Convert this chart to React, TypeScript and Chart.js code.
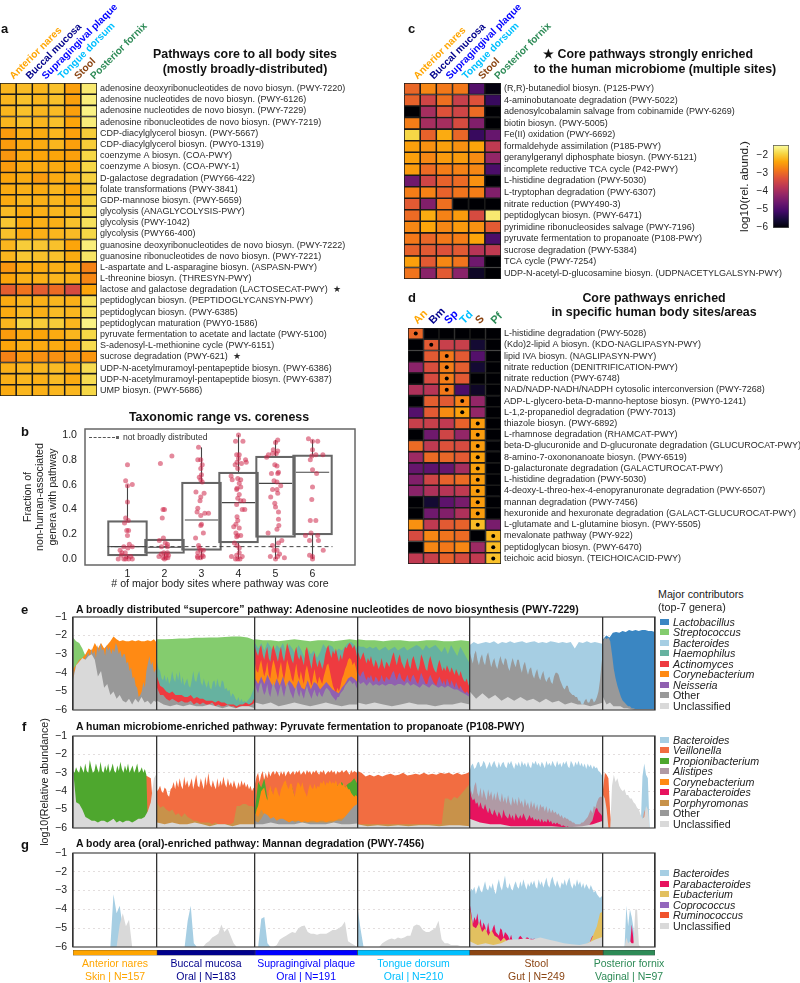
import React, { useEffect, useRef } from 'react';
import { Chart, registerables } from 'chart.js';
Chart.register(...registerables);
const FF = '"Liberation Sans", Arial, sans-serif';
Chart.defaults.font.family = FF;

// ---------- heatmap labels & values
const siteNames = ['Anterior nares', 'Buccal mucosa', 'Supragingival plaque', 'Tongue dorsum', 'Stool', 'Posterior fornix'];
const siteAbbrev = ['An', 'Bm', 'Sp', 'Td', 'S', 'Pf'];
const siteColors = ['#FFA500', '#00008B', '#0000FF', '#00BFFF', '#8B4513', '#2E8B57'];
const siteN = [157, 183, 191, 210, 249, 97];
const siteArea = ['Skin', 'Oral', 'Oral', 'Oral', 'Gut', 'Vaginal'];

const rowsA = ['adenosine deoxyribonucleotides de novo biosyn. (PWY-7220)', 'adenosine nucleotides de novo biosyn. (PWY-6126)', 'adenosine nucleotides de novo biosyn. (PWY-7229)', 'adenosine ribonucleotides de novo biosyn. (PWY-7219)', 'CDP-diacylglycerol biosyn. (PWY-5667)', 'CDP-diacylglycerol biosyn. (PWY0-1319)', 'coenzyme A biosyn. (COA-PWY)', 'coenzyme A biosyn. (COA-PWY-1)', 'D-galactose degradation (PWY66-422)', 'folate transformations (PWY-3841)', 'GDP-mannose biosyn. (PWY-5659)', 'glycolysis (ANAGLYCOLYSIS-PWY)', 'glycolysis (PWY-1042)', 'glycolysis (PWY66-400)', 'guanosine deoxyribonucleotides de novo biosyn. (PWY-7222)', 'guanosine ribonucleotides de novo biosyn. (PWY-7221)', 'L-aspartate and L-asparagine biosyn. (ASPASN-PWY)', 'L-threonine biosyn. (THRESYN-PWY)', 'lactose and galactose degradation (LACTOSECAT-PWY)  ★', 'peptidoglycan biosyn. (PEPTIDOGLYCANSYN-PWY)', 'peptidoglycan biosyn. (PWY-6385)', 'peptidoglycan maturation (PWY0-1586)', 'pyruvate fermentation to acetate and lactate (PWY-5100)', 'S-adenosyl-L-methionine cycle (PWY-6151)', 'sucrose degradation (PWY-621)  ★', 'UDP-N-acetylmuramoyl-pentapeptide biosyn. (PWY-6386)', 'UDP-N-acetylmuramoyl-pentapeptide biosyn. (PWY-6387)', 'UMP biosyn. (PWY-5686)'];
const valuesA = [
  [-2.25, -2.2, -2.25, -2.15, -2.45, -1.75], [-2.25, -2.15, -2.25, -2.15, -2.45, -1.7], [-2.25, -2.15, -2.25, -2.2, -2.45, -1.65], [-2.25, -2.15, -2.25, -2.15, -2.4, -1.7],
  [-2.5, -2.3, -2.35, -2.25, -2.45, -2.05], [-2.5, -2.35, -2.35, -2.25, -2.45, -2.05], [-2.55, -2.35, -2.4, -2.4, -2.45, -1.95], [-2.5, -2.35, -2.35, -2.35, -2.4, -1.95],
  [-2.4, -2.35, -2.5, -2.35, -2.3, -2.0], [-2.35, -2.3, -2.35, -2.25, -2.4, -2.05], [-2.35, -2.25, -2.3, -2.25, -2.35, -2.0], [-2.2, -2.35, -2.3, -2.25, -2.25, -1.9],
  [-2.1, -2.35, -2.3, -2.3, -2.15, -1.85], [-2.15, -2.35, -2.3, -2.25, -2.2, -1.95], [-2.25, -2.05, -2.1, -2.15, -2.4, -1.7], [-2.25, -2.1, -2.15, -2.15, -2.35, -1.8],
  [-2.55, -2.35, -2.35, -2.3, -2.35, -2.75], [-2.4, -2.3, -2.3, -2.25, -2.3, -2.7], [-3.15, -2.9, -3.15, -3.0, -3.4, -2.4], [-2.35, -2.25, -2.3, -2.25, -2.3, -1.85],
  [-2.35, -2.2, -2.3, -2.2, -2.25, -1.85], [-2.25, -1.95, -2.05, -2.05, -2.25, -1.65], [-2.5, -2.35, -2.4, -2.35, -2.25, -1.95], [-2.4, -2.3, -2.35, -2.35, -2.45, -1.9],
  [-2.75, -2.5, -2.6, -2.6, -2.55, -2.55], [-2.3, -2.25, -2.25, -2.2, -2.35, -1.9], [-2.3, -2.25, -2.3, -2.2, -2.35, -1.9], [-2.35, -2.25, -2.3, -2.25, -2.25, -1.95],
];
const rowsC = ['(R,R)-butanediol biosyn. (P125-PWY)', '4-aminobutanoate degradation (PWY-5022)', 'adenosylcobalamin salvage from cobinamide (PWY-6269)', 'biotin biosyn. (PWY-5005)', 'Fe(II) oxidation (PWY-6692)', 'formaldehyde assimilation (P185-PWY)', 'geranylgeranyl diphosphate biosyn. (PWY-5121)', 'incomplete reductive TCA cycle (P42-PWY)', 'L-histidine degradation (PWY-5030)', 'L-tryptophan degradation (PWY-6307)', 'nitrate reduction (PWY490-3)', 'peptidoglycan biosyn. (PWY-6471)', 'pyrimidine ribonucleosides salvage (PWY-7196)', 'pyruvate fermentation to propanoate (P108-PWY)', 'sucrose degradation (PWY-5384)', 'TCA cycle (PWY-7254)', 'UDP-N-acetyl-D-glucosamine biosyn. (UDPNACETYLGALSYN-PWY)'];
const valuesC = [
  [-3.05, -2.7, -2.85, -2.85, -4.9, -5.9], [-3.1, -3.5, -2.95, -3.6, -3.3, -5.2], [-6, -4.0, -3.3, -3.5, -3.0, -6], [-2.8, -4.0, -4.0, -3.4, -4.4, -6],
  [-1.95, -3.1, -2.35, -3.05, -5.2, -4.7], [-2.45, -2.6, -2.45, -2.6, -2.4, -3.7], [-2.45, -2.7, -2.5, -2.5, -2.65, -4.2], [-2.5, -3.0, -2.8, -2.75, -2.7, -5.0],
  [-4.6, -3.5, -3.1, -3.0, -2.6, -6], [-2.8, -2.75, -3.1, -2.9, -2.8, -4.4], [-3.2, -4.4, -2.95, -6, -6, -6], [-3.0, -2.35, -2.75, -2.5, -3.4, -1.75],
  [-2.7, -2.4, -2.7, -2.5, -2.6, -3.2], [-2.85, -3.05, -2.85, -2.8, -2.4, -5.0], [-3.1, -3.2, -3.3, -3.2, -3.8, -3.7], [-2.45, -3.2, -2.7, -2.9, -4.6, -6], [-2.9, -4.3, -3.2, -4.3, -5.7, -6],
];
const rowsD = ['L-histidine degradation (PWY-5028)', '(Kdo)2-lipid A biosyn. (KDO-NAGLIPASYN-PWY)', 'lipid IVA biosyn. (NAGLIPASYN-PWY)', 'nitrate reduction (DENITRIFICATION-PWY)', 'nitrate reduction (PWY-6748)', 'NAD/NADP-NADH/NADPH cytosolic interconversion (PWY-7268)', 'ADP-L-glycero-beta-D-manno-heptose biosyn. (PWY0-1241)', 'L-1,2-propanediol degradation (PWY-7013)', 'thiazole biosyn. (PWY-6892)', 'L-rhamnose degradation (RHAMCAT-PWY)', 'beta-D-glucuronide and D-glucuronate degradation (GLUCUROCAT-PWY)', '8-amino-7-oxononanoate biosyn. (PWY-6519)', 'D-galacturonate degradation (GALACTUROCAT-PWY)', 'L-histidine degradation (PWY-5030) ', '4-deoxy-L-threo-hex-4-enopyranuronate degradation (PWY-6507)', 'mannan degradation (PWY-7456)', 'hexuronide and hexuronate degradation (GALACT-GLUCUROCAT-PWY)', 'L-glutamate and L-glutamine biosyn. (PWY-5505)', 'mevalonate pathway (PWY-922)', 'peptidoglycan biosyn. (PWY-6470)', 'teichoic acid biosyn. (TEICHOICACID-PWY)'];
const valuesD = [
  [-3.05, -6, -6, -6, -6, -6], [-6, -3.2, -3.6, -3.6, -5.6, -6], [-6, -3.2, -2.85, -3.2, -4.9, -6], [-4.3, -3.35, -2.8, -3.15, -5.6, -6], [-6, -3.4, -2.8, -3.2, -6, -6],
  [-3.9, -3.8, -2.85, -5.0, -5.7, -6], [-6, -3.15, -3.2, -2.75, -4.2, -6], [-4.9, -3.2, -2.65, -2.45, -4.2, -6], [-3.6, -3.6, -3.7, -3.1, -2.5, -6], [-6, -4.6, -3.5, -4.2, -2.5, -6],
  [-3.0, -3.7, -3.3, -3.4, -2.5, -6], [-4.1, -3.0, -3.05, -3.2, -2.45, -6], [-4.7, -4.8, -4.7, -4.0, -2.45, -6], [-4.4, -3.5, -3.1, -3.0, -2.5, -6], [-4.3, -3.9, -3.8, -3.7, -2.5, -6],
  [-6, -5.6, -4.8, -4.5, -2.5, -6], [-6, -4.6, -4.4, -3.9, -2.5, -6], [-2.6, -3.7, -3.2, -3.1, -2.2, -4.5], [-3.4, -2.7, -2.9, -3.0, -6, -2.25], [-6, -2.7, -2.85, -2.7, -4.1, -2.2], [-3.7, -3.6, -3.1, -3.4, -3.7, -2.15],
];
const dotColumnD = [0, 1, 2, 2, 2, 2, 3, 3, 4, 4, 4, 4, 4, 4, 4, 4, 4, 4, 5, 5, 5];

// ---------- panel b
const boxCounts = [1, 2, 3, 4, 5, 6];
const boxQ1 = [0.025, 0.045, 0.07, 0.13, 0.175, 0.195];
const boxMedian = [0.10, 0.095, 0.315, 0.455, 0.61, 0.70];
const boxQ3 = [0.31, 0.16, 0.62, 0.70, 0.83, 0.84];
const whiskLow = [0, 0, 0, 0, 0, 0];
const whiskHigh = [0.6, 0.16, 0.9, 1.0, 0.96, 0.96];
const jitter1 = [[0, .76], [-.05, .63], [0, .59], [.13, .6], [0, .46], [-.05, .33], [-.08, .29], [.02, .31], [-.02, .23], [.03, .23], [0, .19], [.05, .12], [-.1, .1], [.01, .09], [-.2, .07], [-.15, .05], [-.06, .05], [.13, .1], [-.25, 0], [-.1, 0], [-.02, .02], [.03, 0], [.09, .02], [.13, 0], [-.17, .03], [-.05, 0]];
const jitter2 = [[-.11, .77], [.2, .83], [-.04, .4], [0, .4], [-.06, .33], [-.03, .17], [-.14, .15], [.08, .12], [.02, .13], [-.08, .1], [.08, .1], [-.02, .05], [.04, .03], [.08, .05], [.11, .03], [-.04, .01], [.04, .01], [0, 0], [-.15, .02], [.09, .01], [-.09, .04]];
const jitter3 = [[-.08, .9], [-.1, .8], [-.02, .8], [.02, .76], [-.02, .73], [0, .68], [-.06, .66], [-.02, .64], [.02, .62], [-.15, .54], [.07, .53], [-.02, .5], [-.04, .47], [-.1, .41], [-.12, .38], [.09, .37], [.19, .37], [-.02, .35], [0, .28], [-.02, .27], [.05, .21], [-.16, .17], [-.08, .11], [-.06, .09], [-.02, .07], [.05, .07], [-.1, .05], [-.11, .02], [.02, .03], [-.02, .01], [-.1, .01], [.05, .02]];
const jitter4 = [[0, 1], [-.08, .95], [.12, .95], [-.05, .84], [.02, .84], [0, .81], [.19, .8], [.21, .78], [-.04, .78], [.08, .77], [-.09, .76], [-.02, .73], [-.2, .67], [-.17, .64], [-.02, .65], [.06, .64], [.02, .61], [-.04, .57], [.06, .58], [-.05, .56], [.02, .52], [-.02, .49], [.06, .47], [.14, .47], [-.05, .44], [.1, .4], [.17, .4], [-.04, .34], [-.02, .31], [-.07, .28], [-.13, .26], [.02, .25], [-.07, .21], [-.02, .19], [.06, .19], [-.05, .18], [-.11, .13], [-.04, .11], [.02, .09], [-.19, .02], [-.05, .03], [.02, .05], [.1, .02], [-.02, 0], [.04, 0], [-.08, 0]];
const jitter5 = [[.06, .96], [0, .94], [-.06, .88], [.06, .87], [.02, .85], [-.08, .85], [-.19, .84], [-.24, .82], [-.02, .76], [.04, .75], [.08, .7], [-.11, .69], [.06, .69], [-.04, .63], [.04, .62], [.14, .59], [-.08, .56], [.04, .56], [.06, .53], [-.13, .5], [-.02, .45], [0, .42], [.08, .38], [.08, .32], [.09, .27], [.04, .24], [-.2, .21], [.17, .15], [.08, .13], [-.08, .11], [-.04, .07], [.04, .07], [.11, .04], [-.14, .02], [0, 0], [.24, .01], [.06, .02]];
const jitter6 = [[-.11, .97], [0, .95], [.14, .95], [0, .88], [.09, .84], [.28, .84], [-.02, .83], [-.06, .8], [0, .72], [.11, .69], [0, .58], [-.02, .48], [-.06, .31], [.09, .31], [-.04, .21], [-.19, .19], [.14, .19], [-.08, .15], [.16, .15], [-.08, .03], [0, .02], [.29, .07], [0, 0]];
const jitterGroups = [jitter1, jitter2, jitter3, jitter4, jitter5, jitter6];
const notBroadlyDistributed = 0.1;

// ---------- contributor legends
const legendE = ['Lactobacillus', 'Streptococcus', 'Bacteroides', 'Haemophilus', 'Actinomyces', 'Corynebacterium', 'Neisseria', 'Other', 'Unclassified'];
const legendF = ['Bacteroides', 'Veillonella', 'Propionibacterium', 'Alistipes', 'Corynebacterium', 'Parabacteroides', 'Porphyromonas', 'Other', 'Unclassified'];
const legendG = ['Bacteroides', 'Parabacteroides', 'Eubacterium', 'Coprococcus', 'Ruminococcus', 'Unclassified'];
const genusColors: Record<string, string> = { Lactobacillus: '#3a86c2', Streptococcus: '#84cc6e', Bacteroides: '#a6cee3', Haemophilus: '#66b2a0', Actinomyces: '#ee3b40', Corynebacterium: '#ff8a14', Neisseria: '#9060b0', Other: '#999999', Unclassified: '#d9d9d9', Veillonella: '#f26d41', Propionibacterium: '#4ea72e', Alistipes: '#b09aa5', Parabacteroides: '#e7135f', Porphyromonas: '#c8924a', Eubacterium: '#e2c060', Coprococcus: '#9467bd', Ruminococcus: '#f0532d' };

// ---------- panel e boundaries (top of each stacked layer, log10)
const eAnStrep = [-2.1, -2.3, -2.4, -2.7, -3.1, -3.4, -6, -6, -6, -6, -6, -6, -6, -6, -6, -6, -6, -6, -6, -6, -6, -6, -6, -6, -6, -6, -6, -6];
const eAnCoryne = [-3.8, -3.6, -3.3, -3.2, -3.0, -2.7, -2.8, -2.4, -2.7, -2.4, -2.7, -2.5, -2.3, -2.05, -2.2, -2.3, -2.25, -2.3, -2.3, -2.25, -2.3, -2.25, -2.3, -2.3, -2.25, -2.3, -2.2, -2.4];
const eAnOther = [-4.3, -3.9, -3.6, -3.8, -3.3, -3.6, -3.3, -3.4, -3.2, -3.1, -2.9, -3.2, -2.7, -3.0, -2.8, -3.2, -2.5, -2.9, -2.4, -2.8, -2.7, -3.1, -2.5, -2.8, -2.6, -3.0, -2.7, -2.9, -2.4, -2.6, -3.0, -2.8, -3.2, -3.0, -3.0, -3.5, -3.4, -3.9, -3.7, -4.3, -4.2, -4.7, -4.8, -5.3, -5.2, -5.0, -4.5, -4.8, -3.9, -3.5, -3.1, -3.6, -3.4, -4.0, -3.8, -4.3];
const eAnUncl = [-4.4, -3.6, -3.4, -3.2, -3.3, -3.1, -3.0, -3.3, -4.2, -3.9, -4.8, -4.6, -5.2, -5.0, -5.4, -5.2, -5.5, -5.6, -5.4, -5.7, -5.4, -5.6, -5.3, -5.6, -5.5, -5.7, -5.5, -5.6];
const eBmStrep = [-2.2, -2.2, -2.18, -2.15, -2.15, -2.12, -2.12, -2.1, -2.1, -2.08, -2.05, -2.05, -2.1, -2.25];
const eBmHaem = [-3.4, -3.8, -3.9, -4.3, -4.4, -4.1, -4.5, -4.2, -4.6, -4.4, -3.9, -4.3, -4.5, -4.0, -4.4, -3.9, -4.6, -4.2, -4.7, -4.5, -4.3, -4.7, -4.8, -4.4, -3.9, -4.4, -4.5, -4.1, -3.9, -4.5, -4.7, -4.3, -4.6, -4.8, -4.4, -4.8, -4.9, -4.5, -4.4, -4.8, -4.3, -4.7, -4.8, -4.4, -4.5, -4.9, -4.8, -5.0, -4.9, -5.3, -5.1, -5.2, -5.4, -5.5, -5.3, -5.6, -5.4, -5.6, -5.5, -5.6, -5.5, -5.4, -5.3, -5.1, -4.9, -4.6];
const eBmActino = [-4.2, -4.7, -4.8, -5.0, -5.1, -5.0, -5.2, -5.2, -5.2, -5.3, -5.3, -5.2, -5.4, -5.3, -5.4, -5.4, -5.5, -5.5, -5.5, -5.6, -5.5, -5.6, -5.6, -5.7, -5.7, -5.7, -5.8, -5.7, -5.7, -5.6, -5.7, -5.6, -5.3];
const eBmOther = [-4.8, -5.2, -5.2, -5.4, -5.5, -5.4, -5.5, -5.6, -5.5, -5.6, -5.6, -5.5, -5.7, -5.6, -5.7, -5.6, -5.7, -5.7, -5.6, -5.8, -5.7, -5.8, -5.8, -5.7, -5.8, -5.8, -5.9, -5.8, -5.8, -5.8, -5.8, -5.7, -5.6];
const eBmUncl = [-5.5, -5.7, -5.8, -5.7, -5.8, -5.7, -5.8, -5.8, -5.7, -5.8, -5.9, -5.8, -5.9, -5.8, -5.8, -5.9];
const eSpStrep = [-2.2, -2.25, -2.25, -2.3, -2.25, -2.2, -2.25, -2.3, -2.25, -2.25, -2.3, -2.25, -2.2, -2.25];
const eSpHaem = [-2.4, -2.7, -2.4, -2.8, -2.35, -2.6, -2.9, -2.5, -2.7, -2.4, -2.9, -2.45, -2.7, -3.0, -2.5, -2.8, -3.2, -2.7, -3.0, -2.8, -3.2, -2.9, -2.45, -2.7, -2.5, -2.6, -2.9, -2.7, -2.8, -2.6, -2.4, -2.35, -2.5, -2.7];
const eSpActino = [-2.6, -2.9, -3.1, -2.7, -2.5, -3.0, -3.3, -2.9, -2.6, -3.2, -3.4, -2.8, -2.5, -2.8, -3.1, -3.4, -2.9, -2.6, -3.1, -3.4, -2.9, -2.4, -2.7, -3.0, -3.3, -3.5, -2.9, -2.6, -3.1, -3.3, -3.0, -3.3, -3.6, -2.8, -2.6, -3.0, -3.4, -3.8, -3.2, -2.9, -3.4, -3.7, -3.3, -3.5, -3.8, -3.5, -3.0, -2.7, -2.5, -2.9, -3.2, -2.8, -3.0, -2.7, -3.1, -3.4, -3.0, -3.3, -2.9, -2.6, -2.7, -2.5, -2.4, -2.5, -2.7, -2.5, -2.8, -3.2];
const eSpCoryne = [-3.5, -3.9, -4.0, -3.6, -3.3, -3.8, -4.2, -3.9, -3.4, -4.1, -4.3, -3.7, -3.3, -3.6, -4.0, -4.4, -3.8, -3.4, -4.0, -4.4, -3.9, -3.3, -3.6, -3.9, -4.3, -4.5, -4.0, -3.5, -4.1, -4.4, -3.9, -4.3, -4.6, -3.9, -3.6, -4.0, -4.4, -4.7, -4.2, -3.8, -4.3, -4.6, -4.2, -4.4, -4.6, -4.2, -3.9, -3.6, -3.5, -3.9, -4.3, -4.7, -4.9, -5.1, -4.8, -5.0, -4.7, -4.3, -4.1, -3.8, -3.6, -3.3, -3.2, -3.3, -3.6, -3.4, -3.7, -4.1];
const eSpNeiss = [-4.3, -4.6, -4.2, -4.6, -4.1, -4.5, -4.8, -4.3, -4.7, -4.2, -4.8, -4.4, -4.6, -4.9, -4.4, -4.8, -4.9, -4.4, -4.9, -4.5, -4.6, -4.9, -4.7, -4.5, -4.7, -4.9, -5.0, -5.1, -4.8, -4.6, -4.3, -4.2, -4.3, -4.5];
const eSpOther = [-4.6, -4.9, -5.1, -4.7, -4.5, -4.9, -5.2, -5.0, -4.6, -5.1, -5.3, -4.8, -4.5, -4.8, -5.0, -5.3, -4.9, -4.6, -5.0, -5.3, -4.9, -4.5, -4.7, -5.0, -5.2, -5.4, -5.0, -4.7, -5.1, -5.3, -4.9, -5.2, -5.4, -5.0, -4.7, -5.0, -5.2, -5.4, -5.1, -4.9, -5.2, -5.3, -5.0, -5.2, -5.3, -5.1, -4.9, -4.8, -4.9, -5.0, -5.2, -5.3, -5.4, -5.5, -5.3, -5.3, -5.1, -5.0, -4.9, -4.7, -4.6, -4.5, -4.4, -4.5, -4.6, -4.5, -4.7, -4.9];
const eSpUncl = [-5.6, -5.7, -5.6, -5.8, -5.7, -5.6, -5.7, -5.8, -5.7, -5.6, -5.7, -5.8, -5.7, -5.7];
const eTdStrep = [-2.2, -2.25, -2.25, -2.3, -2.25, -2.25, -2.3, -2.3, -2.25, -2.25, -2.3, -2.3, -2.25, -2.3];
const eTdHaem = [-2.5, -2.6, -2.6, -2.7, -2.6, -2.7, -2.6, -2.8, -2.7, -2.6, -2.8, -2.7, -2.6, -2.8, -2.7, -2.6, -2.8, -2.7, -2.6, -2.5, -2.6, -2.8, -2.5, -2.7, -2.6, -2.5, -2.7, -2.9, -2.6, -3.0, -2.5, -2.8, -3.1, -2.6, -2.9, -3.2, -3.5];
const eTdActino = [-2.8, -3.0, -3.3, -3.1, -2.9, -3.2, -3.5, -3.2, -3.4, -3.1, -3.5, -3.7, -3.3, -3.5, -3.8, -3.6, -3.2, -3.6, -3.8, -3.4, -3.5, -3.7, -3.4, -3.1, -2.9, -3.3, -3.6, -3.2, -3.0, -3.4, -3.6, -3.8, -3.5, -3.2, -3.6, -3.8, -3.3, -3.1, -3.4, -3.7, -3.9, -3.6, -3.0, -3.2, -3.5, -3.8, -3.9, -3.4, -3.1, -3.4, -3.7, -3.9, -4.0, -3.6, -3.3, -3.6, -3.9, -3.7, -3.9, -3.6, -3.8, -4.0, -3.7, -3.9, -4.1, -3.8, -4.0, -4.2, -3.9, -4.2, -4.4, -4.5, -4.3, -4.6, -4.8];
const eTdNeiss = [-3.9, -4.1, -4.2, -4.0, -3.9, -4.2, -4.4, -4.2, -4.3, -4.1, -4.4, -4.5, -4.2, -4.3, -4.5, -4.4, -4.1, -4.4, -4.5, -4.2, -4.3, -4.4, -4.2, -4.0, -3.9, -4.2, -4.4, -4.1, -4.0, -4.3, -4.4, -4.5, -4.3, -4.1, -4.4, -4.5, -4.2, -4.1, -4.3, -4.5, -4.6, -4.3, -4.0, -4.2, -4.4, -4.6, -4.6, -4.3, -4.1, -4.3, -4.5, -4.6, -4.7, -4.4, -4.2, -4.4, -4.6, -4.4, -4.7, -4.3, -4.5, -4.7, -4.4, -4.6, -4.8, -4.5, -4.7, -4.9, -4.7, -4.9, -5.0, -5.1, -5.0, -5.1, -5.2];
const eTdOther = [-4.4, -4.6, -4.5, -4.7, -4.5, -4.7, -4.6, -4.7, -4.6, -4.7, -4.6, -4.6, -4.7, -4.6, -4.6, -4.7, -4.5, -4.7, -4.6, -4.7, -4.8, -4.6, -4.7, -4.8, -4.6, -4.7, -4.8, -4.7, -4.8, -4.7, -4.8, -4.9, -4.9, -5.0, -5.1, -5.2, -5.3];
const eTdUncl = [-5.6, -5.7, -5.6, -5.7, -5.8, -5.7, -5.6, -5.7, -5.7, -5.8, -5.7, -5.7, -5.6, -5.7];
const eStBact = [-2.5, -2.35, -2.45, -2.4, -2.35, -2.4, -2.3, -2.45, -2.35, -2.4, -2.3, -2.4, -2.35, -2.3, -2.4, -2.35, -2.3, -2.4, -2.35, -2.4, -2.3, -2.35, -2.4, -2.35, -2.4, -2.35, -2.7, -2.35, -2.4, -2.3, -2.4, -2.35, -2.4, -2.45];
const eStOther = [-2.9, -3.2, -3.5, -3.0, -2.8, -3.3, -3.6, -3.2, -3.0, -3.4, -3.6, -3.1, -2.9, -3.3, -3.7, -3.4, -3.2, -3.6, -3.8, -3.4, -3.1, -3.4, -3.6, -3.2, -3.3, -3.7, -3.9, -3.5, -3.2, -3.5, -3.7, -3.3, -3.3, -3.7, -4.0, -3.6, -3.4, -3.8, -4.1, -3.8, -3.7, -4.1, -4.3, -4.0, -3.8, -4.2, -4.4, -4.1, -3.9, -4.3, -4.5, -4.3, -4.2, -4.5, -4.6, -4.2, -4.0, -4.0, -4.1, -4.4, -4.6, -4.8, -4.9, -4.7, -4.7, -5.0, -5.1, -5.2, -5.2, -5.3, -5.3, -5.5, -5.5, -5.7, -5.7, -5.5, -5.4, -5.6, -5.6, -5.4, -5.4, -5.6, -5.5, -5.3, -5.0, -4.4, -3.5, -2.8];
const eStUncl = [-5.0, -5.4, -5.1, -5.4, -5.2, -5.5, -5.3, -5.5, -5.3, -5.5, -5.4, -5.6, -5.4, -5.6, -5.5, -5.7, -5.6, -5.7, -5.7, -5.8, -5.7, -5.6];
const ePfLacto = [-2.2, -2.0, -2.1, -1.85, -1.8, -1.85, -1.75, -1.8, -1.7, -1.75, -1.7, -1.75, -1.7, -1.7, -1.75, -1.75, -1.8];
const ePfOther = [-2.3, -2.1, -2.2, -2.1, -2.3, -3.0, -3.8, -4.3, -4.7, -5.0, -5.3, -5.5, -5.6, -5.7, -5.8, -5.8, -5.9, -5.9, -5.95, -5.95, -5.95, -5.95, -5.95, -5.95, -5.95, -5.95, -5.95, -5.95, -5.95, -5.95];
const ePfUncl = [-5.3, -5.7, -5.6, -5.8, -5.8, -5.8, -5.9, -5.9, -5.95, -6, -6, -6, -6, -6, -6, -6];

// ---------- panel f boundaries
const fAnProp = [-2.9, -3.0, -2.7, -2.9, -3.0, -2.6, -2.8, -3.0, -2.5, -2.9, -3.0, -2.3, -2.7, -3.0, -2.9, -2.5, -2.8, -3.0, -2.4, -2.9, -3.0, -2.6, -2.9, -2.5, -3.0, -2.8, -2.5, -2.9, -3.0, -2.6, -2.9, -2.4, -2.8, -3.0, -2.6, -2.9, -2.5, -3.0, -2.8, -2.6, -3.0, -2.8, -2.5, -3.0, -2.9, -2.7, -3.0, -2.8, -3.1, -6, -6, -6, -6, -6, -6, -6];
const fAnVeill = [-3.8, -3.6, -3.7, -3.8, -4, -4, -4, -4, -4, -4, -4, -4, -4, -4, -4, -4, -4, -4, -4, -4, -4, -4, -3.4, -3.1, -3.2, -3.3, -5.4, -6];
const fAnUncl = [-2.8, -4.6, -4.7, -5.0, -5.4, -5.5, -5.6, -5.6, -5.7, -5.6, -5.6, -5.7, -5.6, -5.5, -5.7, -5.6, -5.7, -5.6, -5.6, -5.7, -5.6, -5.5, -5.5, -5.4, -5.1, -4.6, -3.3, -3.0];
const fBmVeill = [-4.0, -3.9, -3.7, -4.0, -4.1, -3.8, -3.9, -4.2, -4.3, -3.9, -3.8, -3.5, -3.9, -3.4, -3.8, -3.3, -3.7, -3.9, -3.2, -3.7, -3.4, -3.8, -3.6, -3.3, -3.9, -3.5, -3.1, -3.7, -3.8, -3.3, -3.6, -3.9, -3.2, -3.7, -3.0, -3.6, -3.8, -3.4, -3.7, -3.9, -3.3, -3.8, -3.4, -3.7, -3.2, -3.6, -3.8, -3.3, -3.7, -3.5, -3.8, -3.4, -3.7, -3.9, -3.5, -3.8, -3.4, -3.7, -3.5, -3.8, -3.6, -3.9, -3.7, -4.0, -3.8, -4.0];
const fBmPorphy = [-4.6, -4.9, -4.8, -5.0, -5.1, -5.0, -5.3, -5.2, -5.4, -5.2, -5.4, -5.5, -5.6, -5.6, -5.7, -5.7, -5.7, -5.7, -5.8, -5.7, -5.8, -5.8, -5.8, -5.8, -5.8, -5.7, -4.8, -4.8, -4.7, -4.7, -4.8, -4.8, -4.9];
const fBmUncl = [-5.7, -5.8, -5.7, -5.8, -5.8, -5.7, -5.8, -5.9, -5.8, -5.8, -5.9, -5.8, -5.8, -5.8];
const fSpVeill = [-3.6, -3.2, -3.0, -3.5, -3.1, -2.9, -3.4, -3.0, -3.3, -2.9, -3.2, -3.0, -2.9, -3.1, -2.9, -3.0, -3.2, -2.9, -3.1, -2.9, -3.2, -3.0, -2.9, -3.1, -3.0, -2.9, -3.1, -2.9, -3.0, -2.85, -3.1, -3.0, -2.9, -3.1, -2.85, -3.0, -2.9, -3.1, -2.9, -3.0, -2.85, -3.0, -3.1, -2.9, -3.0, -2.85, -3.1, -3.0, -2.9, -3.0, -2.85, -3.0, -2.9, -3.1, -2.9, -3.0, -2.95, -2.85, -3.0, -2.9, -2.85, -3.0, -3.1, -2.85, -3.0, -2.9, -2.95, -3.0];
const fSpProp = [-5.0, -3.5, -3.8, -3.3, -4.4, -3.8, -4.4, -4.2, -4.5, -3.9, -3.6, -4.3, -3.8, -4.5, -3.7, -3.9, -4.2, -4.5, -3.8, -4.2, -4.2, -4.2, -3.9, -4.0, -3.8, -3.7, -3.6, -3.7, -3.5, -3.8, -3.6, -3.5, -3.3, -3.6];
const fSpCoryne = [-5.4, -5.0, -4.8, -4.4, -4.0, -3.9, -3.8, -4.2, -4.5, -4.0, -3.7, -4.0, -4.2, -3.8, -3.8, -4.1, -4.3, -3.9, -3.7, -3.5, -3.4, -3.7, -3.9, -3.6, -3.6, -4.0, -4.3, -3.8, -3.5, -3.6, -3.8, -3.5, -3.9, -4.1, -4.3, -3.9, -3.6, -3.8, -3.9, -3.6, -3.9, -3.7, -3.8, -3.5, -3.6, -3.4, -3.7, -3.5, -3.6, -3.4, -3.6, -3.5, -3.6, -3.4, -3.7, -3.6, -3.5, -3.7, -3.6, -3.8, -3.7, -3.9, -3.9, -4.1, -4.2, -4.3, -4.2, -4.3];
const fSpPorphy = [-5.2, -5.4, -5.0, -5.3, -5.5, -5.6, -5.5, -5.6, -5.6, -5.5, -5.6, -5.7, -5.6, -5.6, -5.6, -5.7, -5.6, -5.7, -5.6, -5.6, -5.7, -5.6, -5.6, -5.7, -5.6, -5.6, -5.6, -5.5, -5.5, -5.4, -5.3, -5.0, -5.0, -4.9];
const fSpOther = [-5.6, -5.7, -5.5, -5.2, -5.3, -5.5, -5.4, -5.6, -5.5, -5.5, -5.6, -5.7, -5.6, -5.7, -5.6, -5.7, -5.7, -5.7, -5.7, -5.7, -5.7, -5.7, -5.7, -5.7, -5.7, -5.7, -5.6, -5.6, -5.6, -5.4, -5.2, -5.0, -4.8, -4.7];
const fSpUncl = [-5.8, -5.8, -5.7, -5.8, -5.8, -5.8, -5.7, -5.8, -5.8, -5.8, -5.7, -5.8, -5.8, -5.75];
const fTdVeill = [-2.9, -3.0, -3.2, -3.1, -3.2, -3.1, -3.2, -3.1, -3.05, -3.15, -3.1, -3.0, -3.15, -3.1, -3.05, -3.1, -3.0, -3.1, -3.05, -3.1, -3.0, -3.05, -3.0, -3.1, -3.0, -3.1, -3.05, -2.95];
const fTdPorphy = [-5.8, -5.8, -5.8, -5.8, -5.8, -5.8, -5.8, -5.8, -5.8, -5.8, -5.8, -5.8, -5.8, -5.8, -5.8, -5.8, -5.8, -5.8, -5.8, -5.8, -5.8, -5.8, -5.8, -5.8, -5.8, -5.8, -5.8, -5.8, -4.4, -4.4, -4.5, -4.3, -4.4, -4.2, -4.0, -3.8, -3.6];
const fTdUncl = [-5.8, -5.9, -5.85, -5.9, -5.85, -5.9, -5.85, -5.85, -5.9, -5.85, -5.85, -5.9];
const fStBact = [-2.9, -2.6, -2.5, -2.8, -2.7, -2.45, -2.4, -2.7, -2.6, -2.35, -2.5, -2.8, -2.6, -2.4, -2.7, -2.5, -2.35, -2.6, -2.75, -2.4, -2.7, -2.5, -2.4, -2.65, -2.75, -2.4, -2.55, -2.35, -2.6, -2.8, -2.45, -2.65, -2.4, -2.7, -2.35, -2.6, -2.45, -2.7, -2.4, -2.65, -2.75, -2.4, -2.55, -2.35, -2.6, -2.45, -2.7, -2.4, -2.55, -2.75, -2.35, -2.6, -2.45, -2.65, -2.35, -2.55, -2.7, -2.35, -2.6, -2.45, -2.7, -2.4, -2.55, -2.35, -2.65, -2.75, -2.35, -2.5, -2.7, -2.4, -2.6, -2.35, -2.65, -2.45, -2.7, -2.5, -2.8, -2.5, -2.7, -2.55, -2.8, -2.6, -2.75, -2.7, -2.9, -2.95, -3.1, -3.2];
const fStAlist = [-3.6, -4.0, -4.2, -3.7, -3.5, -4.1, -4.3, -3.8, -4.4, -3.9, -4.2, -4.5, -3.9, -4.3, -4.0, -4.5, -4.1, -4.5, -4.0, -4.4, -4.6, -4.1, -4.6, -4.3, -4.7, -4.2, -4.6, -4.8, -4.3, -4.7, -4.4, -4.8, -4.3, -4.7, -4.5, -4.9, -4.4, -4.8, -4.6, -5.0, -4.5, -4.9, -4.6, -5.0, -4.7, -5.1, -4.7, -4.9, -4.8, -5.1, -4.8, -5.2, -4.9, -5.2, -5.0, -5.2, -5.1, -5.3, -5.2, -5.4, -5.3, -5.5, -5.4, -5.5, -5.5, -5.6, -5.6, -5.7, -5.7, -5.8, -5.8, -5.8, -5.8, -5.7, -5.7, -5.6, -5.5, -5.4, -5.2, -5.0, -5.2, -4.8, -4.9, -4.6, -4.4, -4.3, -4.3, -4.4];
const fStParab = [-3.9, -4.3, -4.5, -4.4, -4.7, -4.6, -4.9, -4.6, -4.9, -5.0, -4.7, -5.0, -5.2, -4.9, -5.2, -5.3, -5.0, -5.2, -5.4, -5.1, -5.3, -5.5, -5.0, -5.3, -5.4, -5.5, -5.2, -5.5, -5.3, -5.6, -5.2, -5.4, -5.5, -5.3, -5.5, -5.2, -5.4, -5.6, -5.5, -5.3, -5.5, -5.4, -5.6, -5.5, -5.6, -5.5, -5.7, -5.5, -5.7, -5.6, -5.7, -5.5, -5.7, -5.6, -5.8, -5.7, -5.8, -5.7, -5.8, -5.8, -5.9, -5.85, -5.9, -5.95, -5.9, -6, -6, -6, -6, -6, -6, -6, -6, -6, -6, -5.95, -5.9, -5.95, -5.85, -5.7, -5.6, -5.3, -5.0, -4.9, -5.1, -5.2, -5.3, -5.5];
const fStUncl = [-5.5, -5.7, -5.8, -5.8, -5.9, -5.9, -5.9, -5.9, -5.9, -5.95, -5.95, -5.9, -5.8, -5.6];
const fPfBact = [-6, -6, -6, -6, -6, -6, -6, -6, -6, -6, -6, -6, -6, -6, -6, -6, -6, -6, -6, -6, -6, -6, -3.2, -2.5, -3.1, -3.3, -6, -6, -6, -6];
const fPfVeill = [-3.9, -3.0, -3.1, -3.3, -5.2, -6, -6, -6, -6, -6, -6, -6, -6, -6, -6, -6, -6, -6, -6, -6, -6, -6, -6, -5.0, -6, -6, -6, -6, -6, -6];
const fPfUncl = [-4.2, -4.4, -5.0, -6, -6, -3.7, -3.1, -3.5, -3.3, -3.7, -3.9, -4.0, -3.9, -4.2, -4.2, -4.4, -4.4, -4.6, -4.7, -4.9, -5.0, -5.3, -5.5, -5.4, -4.8, -5.0, -6, -6, -6, -6];

// ---------- panel g boundaries
const gAnBact = [-6, -6, -6, -6, -6, -6, -6, -6, -6, -6, -6, -6, -6, -3.2, -4.2, -3.8, -5.0, -6, -6, -6, -6, -6, -6, -6, -6, -6, -6, -6];
const gAnUncl = [-6, -6, -6, -6, -6, -6, -6, -6, -6, -6, -6, -6, -6, -6, -6, -4.8, -4.2, -4.9, -4.55, -6, -6, -6, -6, -6, -6, -6, -6, -6];
const gBmBact = [-6, -6, -6, -6, -6, -6, -6, -6, -6, -6, -4.6, -3.8, -5.8, -6, -6, -6, -6, -6, -6, -6, -6, -6, -6, -6, -6, -6, -6, -6, -6, -6, -6, -6, -6];
const gBmUncl = [-6, -6, -6, -6, -6, -6, -6, -6, -6, -6, -6, -6, -6, -6, -6, -6, -5.8, -5.7, -5.5, -5.4, -5.3, -4.8, -5.2, -5.0, -5.4, -5.8, -6, -6, -6, -6, -6, -6, -6];
const gSpBact = [-6, -6, -4.5, -4.4, -5.8, -6, -6, -6, -6, -6, -6, -6, -6, -6, -6, -6, -6, -6, -6, -6, -6, -6, -6, -6, -6, -6, -6, -6, -6, -6, -6, -6, -6, -6];
const gSpUncl = [-6, -6, -6, -6, -6, -6, -6, -5.9, -5.6, -5.5, -5.4, -5.3, -5.2, -5.25, -5.0, -4.9, -4.85, -5.2, -5.3, -5.3, -5.35, -5.3, -5.3, -5.3, -5.2, -5.1, -5.1, -5.0, -4.9, -4.65, -5.7, -5.8, -5.9, -6];
const gTdBact = [-3.8, -5.0, -6, -6, -6, -6, -6, -6, -6, -6, -6, -6, -6, -6, -6, -6, -6, -6, -6, -6, -6, -6, -6, -6, -6, -6, -6, -6, -6, -6, -6, -6, -6, -6, -6, -6, -6];
const gTdUncl = [-6, -6, -6, -6, -6, -6, -6, -6, -5.8, -5.7, -5.6, -5.55, -5.6, -5.5, -5.55, -5.5, -5.4, -5.4, -4.9, -4.8, -4.85, -5.1, -5.2, -5.2, -5.1, -5.0, -4.6, -5.6, -5.8, -5.8, -5.9, -5.9, -5.9, -5.95, -5.95, -5.95, -6];
const gStBact = [-3.1, -2.9, -3.0, -2.8, -3.2, -2.9, -2.7, -3.0, -3.1, -2.8, -2.5, -2.9, -3.0, -2.7, -2.9, -2.6, -3.0, -3.2, -2.7, -2.4, -2.8, -3.0, -2.6, -2.2, -2.8, -2.9, -2.6, -2.9, -3.0, -2.7, -2.5, -2.8, -2.9, -2.5, -2.8, -2.4, -2.7, -2.95, -2.6, -2.8, -2.5, -2.7, -2.45, -2.8, -2.9, -2.4, -2.7, -2.5, -2.85, -2.6, -2.3, -2.7, -2.85, -2.45, -2.25, -2.6, -2.8, -2.45, -2.7, -2.9, -2.55, -2.7, -2.4, -2.75, -2.5, -2.3, -2.7, -2.9, -2.6, -2.8, -2.4, -2.7, -2.5, -2.85, -2.6, -2.9, -2.65, -2.8, -2.95, -2.7, -2.9, -3.1, -3.0, -3.2, -3.3, -3.4, -3.3, -3.4];
const gStEub = [-3.9, -4.9, -5.0, -4.7, -5.2, -5.0, -5.4, -5.1, -5.4, -5.5, -5.7, -5.5, -5.7, -5.7, -5.8, -5.8, -5.9, -5.9, -5.9, -5.9, -5.9, -5.9, -5.9, -5.9, -5.9, -5.95, -5.95, -5.95, -5.95, -5.95, -5.95, -5.9, -5.9, -5.95, -5.95, -5.95, -5.9, -5.9, -5.8, -5.7, -5.3, -4.9, -4.2, -4.1];
const gStParab = [-3.7, -4.2, -4.8, -4.4, -4.6, -4.2, -4.9, -4.5, -5.0, -4.7, -4.9, -5.2, -4.7, -5.2, -5.4, -5.0, -4.8, -5.2, -5.3, -5.4, -5.0, -5.1, -5.5, -5.2, -5.3, -5.4, -5.6, -5.35, -5.7, -5.8, -5.9, -5.9, -5.5, -5.4, -5.5, -5.6, -5.6, -5.5, -5.5, -5.6, -5.55, -5.6, -5.55, -5.6, -5.7, -5.6, -5.75, -5.65, -5.7, -5.8, -5.8, -5.9, -5.85, -5.9, -5.9, -5.95, -5.8, -5.9, -5.95, -5.9, -5.85, -5.95, -5.9, -6, -6, -6, -6, -6, -6, -6, -6, -6, -6, -6, -6, -6, -6, -5.95, -5.9, -5.6, -5.4, -5.5, -5.2, -5.3, -5.0, -4.7, -4.9, -5.6];
const gStUncl = [-5.7, -5.9, -5.8, -5.9, -5.8, -5.6, -5.6, -5.55, -5.6, -5.5, -5.6, -5.7, -5.8, -5.85, -5.9, -5.8, -5.6, -5.45];
const gPfBact = [-6, -6, -6, -6, -6, -6, -6, -6, -6, -6, -6, -6, -6, -3.8, -4.9, -4.0, -4.4, -5.0, -6, -6, -6, -6, -6, -6, -6, -6, -6, -6, -6, -6];
const gPfParab = [-6, -6, -6, -6, -6, -6, -6, -6, -6, -6, -6, -6, -6, -6, -6, -6, -4.8, -5.6, -6, -6, -6, -6, -6, -6, -6, -6, -6, -6, -6, -6];
const gPfUncl = [-6, -6, -6, -6, -6, -6, -6, -6, -6, -6, -6, -6, -6, -5.5, -5.8, -5.7, -5.8, -5.8, -4.0, -4.0, -5.9, -6, -6, -6, -6, -6, -6, -6, -6, -6];

type L = [string, number, number[]];
const layersE: L[] = [
  ['Streptococcus', 0, eAnStrep], ['Corynebacterium', 0, eAnCoryne], ['Other', 0, eAnOther], ['Unclassified', 0, eAnUncl],
  ['Streptococcus', 1, eBmStrep], ['Haemophilus', 1, eBmHaem], ['Actinomyces', 1, eBmActino], ['Other', 1, eBmOther], ['Unclassified', 1, eBmUncl],
  ['Streptococcus', 2, eSpStrep], ['Haemophilus', 2, eSpHaem], ['Actinomyces', 2, eSpActino], ['Corynebacterium', 2, eSpCoryne], ['Neisseria', 2, eSpNeiss], ['Other', 2, eSpOther], ['Unclassified', 2, eSpUncl],
  ['Streptococcus', 3, eTdStrep], ['Haemophilus', 3, eTdHaem], ['Actinomyces', 3, eTdActino], ['Neisseria', 3, eTdNeiss], ['Other', 3, eTdOther], ['Unclassified', 3, eTdUncl],
  ['Bacteroides', 4, eStBact], ['Other', 4, eStOther], ['Unclassified', 4, eStUncl],
  ['Lactobacillus', 5, ePfLacto], ['Other', 5, ePfOther], ['Unclassified', 5, ePfUncl],
];
const layersF: L[] = [
  ['Veillonella', 0, fAnVeill], ['Propionibacterium', 0, fAnProp], ['Unclassified', 0, fAnUncl],
  ['Veillonella', 1, fBmVeill], ['Porphyromonas', 1, fBmPorphy], ['Unclassified', 1, fBmUncl],
  ['Veillonella', 2, fSpVeill], ['Propionibacterium', 2, fSpProp], ['Corynebacterium', 2, fSpCoryne], ['Porphyromonas', 2, fSpPorphy], ['Other', 2, fSpOther], ['Unclassified', 2, fSpUncl],
  ['Veillonella', 3, fTdVeill], ['Porphyromonas', 3, fTdPorphy], ['Unclassified', 3, fTdUncl],
  ['Bacteroides', 4, fStBact], ['Alistipes', 4, fStAlist], ['Parabacteroides', 4, fStParab], ['Unclassified', 4, fStUncl],
  ['Bacteroides', 5, fPfBact], ['Veillonella', 5, fPfVeill], ['Unclassified', 5, fPfUncl],
];
const layersG: L[] = [
  ['Bacteroides', 0, gAnBact], ['Unclassified', 0, gAnUncl], ['Bacteroides', 1, gBmBact], ['Unclassified', 1, gBmUncl],
  ['Bacteroides', 2, gSpBact], ['Unclassified', 2, gSpUncl], ['Bacteroides', 3, gTdBact], ['Unclassified', 3, gTdUncl],
  ['Bacteroides', 4, gStBact], ['Parabacteroides', 4, gStParab], ['Eubacterium', 4, gStEub], ['Unclassified', 4, gStUncl],
  ['Bacteroides', 5, gPfBact], ['Parabacteroides', 5, gPfParab], ['Unclassified', 5, gPfUncl],
];

// ---------- helpers
const infernoStops = ['#000004', '#160b39', '#420a68', '#6a176e', '#932667', '#bc3754', '#dd513a', '#f37819', '#fca50a', '#f6d746', '#fcffa4'];
const rgb = (h: string) => [1, 3, 5].map((i) => parseInt(h.slice(i, i + 2), 16));
const heatMin = -6, heatMax = -1.5;
function heatColor(v: number) {
  const t = Math.max(0, Math.min(0.9999, (v - heatMin) / (heatMax - heatMin))) * 10;
  const i = Math.floor(t), f = t - i, a = rgb(infernoStops[i]), b = rgb(infernoStops[i + 1]);
  return `rgb(${a.map((c, k) => Math.round(c + (b[k] - c) * f)).join(',')})`;
}
const fixBox = (w?: number, h?: number) => (s: any) => {
  if (w !== undefined) s.width = w;
  if (h !== undefined) s.height = h;
  s.paddingLeft = s.paddingRight = s.paddingTop = s.paddingBottom = 0;
};
const framePlugin = (color: string, width: number) => ({
  id: 'frame',
  afterDatasetsDraw(c: any) {
    const { left, top, width: w, height: h } = c.chartArea;
    c.ctx.save(); c.ctx.strokeStyle = color; c.ctx.lineWidth = width; c.ctx.strokeRect(left, top, w, h); c.ctx.restore();
  },
});
const basePlugins = { legend: { display: false }, tooltip: { enabled: false }, title: { display: false } };

function heatConfig(rows: string[], values: number[][], names: string[], labelFont: number, xH: number, yW: number, labelOffset: number, dots?: number[]) {
  const datasets: any[] = names.map((_, col) => ({
    type: 'bar', grouped: false, barPercentage: 1, categoryPercentage: 1,
    data: rows.map(() => [col, col + 1]),
    backgroundColor: values.map((r) => heatColor(r[col])),
    borderColor: '#1a1a1a', borderWidth: 1.1, borderSkipped: false,
  }));
  if (dots) datasets.unshift({ type: 'scatter', data: dots.map((col, row) => ({ x: col + 0.5, y: row })), pointRadius: 2, backgroundColor: '#000', borderWidth: 0, xAxisID: 'x', yAxisID: 'y', order: -1 });
  return {
    type: 'bar',
    data: { labels: rows, datasets },
    options: {
      indexAxis: 'y', responsive: false, animation: false, layout: { padding: 0 },
      plugins: basePlugins,
      scales: {
        x: {
          position: 'top', type: 'linear', min: 0, max: 6, grid: { display: false, drawTicks: false }, border: { display: false },
          afterBuildTicks: (s: any) => { s.ticks = names.map((_, i) => ({ value: i + 0.5 })); },
          afterFit: fixBox(undefined, xH),
          ticks: { autoSkip: false, minRotation: 45, maxRotation: 45, padding: 1, labelOffset, callback: (_: any, i: number) => names[i], color: (c: any) => siteColors[c.index], font: { size: labelFont, weight: 'bold' } },
        },
        y: {
          position: 'right', type: 'category', grid: { display: false, drawTicks: false }, border: { display: false },
          afterFit: fixBox(yW),
          ticks: { autoSkip: false, padding: 3, color: '#2a2a2a', font: { size: 9 } },
        },
      },
    },
  };
}

function areaConfig(layers: L[], legend: string[], padT: number, padB: number, yTitle?: string) {
  const edges = siteN.reduce((a: number[], n) => [...a, a[a.length - 1] + n], [0]);
  return {
    type: 'line',
    data: {
      datasets: layers.map(([name, seg, vals]) => ({
        data: vals.map((y, i) => ({ x: edges[seg] + (i / (vals.length - 1)) * siteN[seg], y })),
        backgroundColor: genusColors[name], borderWidth: 0, pointRadius: 0, fill: 'start', tension: 0,
        order: legend.length - legend.indexOf(name),
      })),
    },
    options: {
      responsive: false, animation: false, layout: { padding: { top: padT, bottom: padB, right: 5 } },
      plugins: basePlugins,
      scales: {
        x: {
          type: 'linear', min: 0, max: edges[6], border: { display: false },
          afterBuildTicks: (s: any) => { s.ticks = edges.map((value) => ({ value })); },
          afterFit: fixBox(undefined, 0),
          grid: { color: '#333', lineWidth: 1.3, z: 1, drawTicks: false },
          ticks: { display: false },
        },
        y: {
          min: -6, max: -1, border: { display: false, dash: [2, 3] },
          afterFit: fixBox(73),
          grid: { color: (c: any) => (c.tick.value === -1 || c.tick.value === -6 ? 'transparent' : '#dcd6d6'), lineWidth: 0.8, drawTicks: false },
          ticks: { stepSize: 1, padding: 6, color: '#222', font: { size: 10.5 }, callback: (v: number) => '\u2212' + Math.abs(v) },
          title: yTitle ? { display: true, text: yTitle, color: '#222', font: { size: 10.7 }, padding: { top: 39, bottom: 0 } } : { display: false },
        },
      },
    },
    plugins: [framePlugin('#555', 1.3)],
  };
}

const boxConfig = () => {
  const pts = jitterGroups.flatMap((g, k) => g.map(([dx, y]) => ({ x: boxCounts[k] + dx, y })));
  const seg = (xs: number[], ys: number[]) => ({ type: 'scatter', showLine: true, data: xs.map((x, i) => ({ x, y: ys[i] })), borderColor: '#444', borderWidth: 1.1, pointRadius: 0, order: 2 });
  const datasets: any[] = [
    { type: 'scatter', data: pts, pointRadius: 2.5, backgroundColor: 'rgba(205,40,75,0.55)', borderWidth: 0, order: 0 },
    { type: 'bar', data: boxCounts.map((x, i) => ({ x, y: [boxQ1[i], boxQ3[i]] })), barThickness: 40, backgroundColor: 'rgba(0,0,0,0)', borderColor: '#666', borderWidth: 1.5, borderSkipped: false, grouped: false, order: 3 },
    ...boxCounts.map((x, i) => seg([x - 0.45, x + 0.45], [boxMedian[i], boxMedian[i]])),
    ...boxCounts.map((x, i) => seg([x, x], [whiskLow[i], boxQ1[i]])),
    ...boxCounts.map((x, i) => seg([x, x], [boxQ3[i], whiskHigh[i]])),
    { type: 'scatter', showLine: true, data: [{ x: 0.46, y: notBroadlyDistributed }, { x: 6.54, y: notBroadlyDistributed }], borderColor: '#444', borderWidth: 1, borderDash: [4, 3], pointRadius: 0, order: 1 },
  ];
  return {
    type: 'bar',
    data: { datasets },
    options: {
      responsive: false, animation: false, layout: { padding: { top: 9, right: 15 } }, plugins: basePlugins,
      scales: {
        x: {
          type: 'linear', min: 0.46, max: 6.54, grid: { display: false, drawTicks: false }, border: { display: false },
          afterBuildTicks: (s: any) => { s.ticks = boxCounts.map((value) => ({ value })); },
          afterFit: fixBox(undefined, 30),
          ticks: { padding: 3, color: '#222', font: { size: 10.5 }, callback: (v: number) => String(v) },
          title: { display: true, text: '# of major body sites where pathway was core', color: '#222', font: { size: 10.6 }, padding: { top: 0, bottom: 4.7 } },
        },
        y: {
          min: -0.048, max: 1.048, grid: { display: false, drawTicks: false }, border: { display: false },
          afterBuildTicks: (s: any) => { s.ticks = [0, 0.2, 0.4, 0.6, 0.8, 1].map((value) => ({ value })); },
          afterFit: fixBox(85),
          ticks: { padding: 8, color: '#222', font: { size: 10.6 }, callback: (v: number) => v.toFixed(1) },
          title: { display: true, text: ['Fraction of', 'non-human-associated', 'genera with pathway'], color: '#222', font: { size: 10.6, lineHeight: 1.18 }, padding: { top: 21.7, bottom: 0 } },
        },
      },
    },
    plugins: [framePlugin('#666', 1.5)],
  };
};

const colorbarRange = [-6.03, -1.45];
const colorbarConfig = () => ({
  type: 'bar',
  data: {
    labels: [''],
    datasets: [{
      data: [colorbarRange], barPercentage: 1, categoryPercentage: 1, borderColor: '#555', borderWidth: 1, borderSkipped: false,
      backgroundColor: (c: any) => {
        const a = c.chart.chartArea; if (!a) return '#000';
        const g = c.chart.ctx.createLinearGradient(0, a.bottom, 0, a.top);
        infernoStops.forEach((s, i) => g.addColorStop(i / 10, s));
        return g;
      },
    }],
  },
  options: {
    responsive: false, animation: false, layout: { padding: { top: 5, bottom: 6, right: 1 } }, plugins: basePlugins,
    scales: {
      x: { display: false },
      y: {
        min: colorbarRange[0], max: colorbarRange[1], grid: { display: false, drawTicks: false }, border: { display: false }, afterFit: fixBox(38),
        afterBuildTicks: (s: any) => { s.ticks = [-6, -5, -4, -3, -2].map((value) => ({ value })); },
        ticks: { padding: 5, color: '#222', font: { size: 10 }, callback: (v: number) => '\u2212' + Math.abs(v) },
        title: { display: true, text: 'log10(rel. abund.)', color: '#222', font: { size: 11.6 }, padding: { top: 3, bottom: 0 } },
      },
    },
  },
});

const stripConfig = () => {
  const total = siteN.reduce((a, b) => a + b, 0);
  const edges = siteN.reduce((a: number[], n) => [...a, a[a.length - 1] + n], [0]);
  return {
    type: 'bar',
    data: { labels: [''], datasets: siteN.map((n, i) => ({ data: [n], backgroundColor: siteColors[i], borderColor: '#333', borderWidth: 0.6, borderSkipped: false, barPercentage: 1, categoryPercentage: 1 })) },
    options: {
      indexAxis: 'y', responsive: false, animation: false, layout: { padding: { left: 73, right: 145, top: 2 } }, plugins: basePlugins,
      scales: {
        y: { stacked: true, display: false },
        x: {
          stacked: true, min: 0, max: total, grid: { display: false, drawTicks: false }, border: { display: false },
          afterBuildTicks: (s: any) => { s.ticks = siteN.map((n, i) => ({ value: edges[i] + n / 2 })); },
          afterFit: fixBox(undefined, 27.5),
          ticks: {
            autoSkip: false, maxRotation: 0, minRotation: 0, padding: 2, font: { size: 10.5, lineHeight: 1.24 },
            color: (c: any) => siteColors[c.index],
            callback: (_: any, i: number) => [siteNames[i], `${siteArea[i]} | N=${siteN[i]}`],
          },
        },
      },
    },
  };
};

function Plot({ left, top, width, height, make }: { left: number; top: number; width: number; height: number; make: () => any }) {
  const ref = useRef<HTMLCanvasElement>(null);
  useEffect(() => {
    const chart = new Chart(ref.current as any, make());
    return () => chart.destroy();
  }, []);
  return <canvas ref={ref} width={width} height={height} style={{ position: 'absolute', left, top, width, height }} />;
}
function Txt({ x, y, size = 10, bold = false, italic = false, center = false, color = '#111', children }: any) {
  return <div style={{ position: 'absolute', left: x, top: y, fontFamily: FF, fontSize: size, fontWeight: bold ? 700 : 400, fontStyle: italic ? 'italic' : 'normal', color, whiteSpace: 'nowrap', lineHeight: 1, transform: `translate(${center ? '-50%' : '0'},-50%)` }}>{children}</div>;
}
function Legend({ names, y0 }: { names: string[]; y0: number }) {
  return <>{names.map((n, i) => (
    <React.Fragment key={n}>
      <div style={{ position: 'absolute', left: 659.5, top: y0 + i * 10.47 - 3, width: 9.5, height: 6, background: genusColors[n] }} />
      <Txt x={673} y={y0 + i * 10.47} size={10.7} italic={n !== 'Other' && n !== 'Unclassified'} color="#222">{n}</Txt>
    </React.Fragment>
  ))}</>;
}

export default function App() {
  return (
    <div style={{ position: 'absolute', left: 0, top: 0, width: 800, height: 983, overflow: 'hidden', background: '#fff' }}>
      <Plot left={0} top={0} width={400} height={396} make={() => heatConfig(rowsA, valuesA, siteNames, 10.1, 83, 303, 12)} />
      <Plot left={404} top={0} width={396} height={279} make={() => heatConfig(rowsC, valuesC, siteNames, 10.1, 83, 299, 12)} />
      <Plot left={404} top={285} width={396} height={283} make={() => heatConfig(rowsD, valuesD, siteAbbrev, 11, 43, 299, 9, dotColumnD)} />
      <Plot left={735} top={140} width={55} height={94} make={colorbarConfig} />
      <Plot left={0} top={420} width={370} height={175} make={boxConfig} />
      <Plot left={0} top={609} width={660} height={109} make={() => areaConfig(layersE, legendE, 8, 8)} />
      <Plot left={0} top={705.7} width={660} height={152} make={() => areaConfig(layersF, legendF, 30, 30, 'log10(Relative abundance)')} />
      <Plot left={0} top={845} width={660} height={110} make={() => areaConfig(layersG, legendG, 8, 8)} />
      <Plot left={0} top={948} width={800} height={35} make={stripConfig} />

      <Txt x={1} y={28} size={13} bold>a</Txt>
      <Txt x={21} y={431} size={13} bold>b</Txt>
      <Txt x={408} y={28} size={13} bold>c</Txt>
      <Txt x={408} y={297} size={13} bold>d</Txt>
      <Txt x={21} y={609} size={13} bold>e</Txt>
      <Txt x={22} y={726} size={13} bold>f</Txt>
      <Txt x={21} y={844} size={13} bold>g</Txt>

      <Txt x={245} y={54} size={12.4} bold center>Pathways core to all body sites</Txt>
      <Txt x={245} y={69} size={12.4} bold center>(mostly broadly-distributed)</Txt>
      <Txt x={648} y={54} size={12.4} bold center>★ Core pathways strongly enriched</Txt>
      <Txt x={655} y={69} size={12.4} bold center>to the human microbiome (multiple sites)</Txt>
      <Txt x={654} y={298} size={12.4} bold center>Core pathways enriched</Txt>
      <Txt x={654} y={312} size={12.4} bold center>in specific human body sites/areas</Txt>
      <Txt x={219} y={417} size={12.4} bold center>Taxonomic range vs. coreness</Txt>

      <div style={{ position: 'absolute', left: 89, top: 437, width: 26, borderTop: '1px dashed #555' }} />
      <div style={{ position: 'absolute', left: 116, top: 436, width: 3, height: 3, background: '#666' }} />
      <Txt x={123} y={437} size={8.6} color="#333">not broadly distributed</Txt>

      <Txt x={76} y={609.5} size={10.45} bold>A broadly distributed “supercore” pathway: Adenosine nucleotides de novo biosynthesis (PWY-7229)</Txt>
      <Txt x={76} y={727} size={10.45} bold>A human microbiome-enriched pathway: Pyruvate fermentation to propanoate (P108-PWY)</Txt>
      <Txt x={76} y={843.5} size={10.45} bold>A body area (oral)-enriched pathway: Mannan degradation (PWY-7456)</Txt>

      <Txt x={658} y={594} size={10.7} color="#222">Major contributors</Txt>
      <Txt x={658} y={607} size={10.7} color="#222">(top-7 genera)</Txt>
      <Legend names={legendE} y0={622} />
      <Legend names={legendF} y0={740} />
      <Legend names={legendG} y0={873.3} />
    </div>
  );
}
